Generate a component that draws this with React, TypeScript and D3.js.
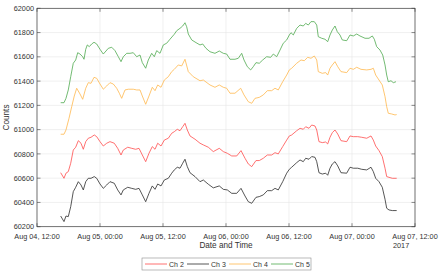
import React from "react";
import * as d3 from "d3";

// hours since Aug 04 2017 12:00
const ch5Hours = [4.51,5.14,5.52,5.96,6.42,6.91,7.37,7.75,8.19,8.70,8.95,9.28,9.58,9.96,10.42,10.86,11.37,12.0,12.63,13.14,13.58,14.23,14.86,15.49,16.0,16.44,17.09,17.71,18.34,18.99,19.62,20.06,20.70,21.20,21.85,22.34,22.80,23.43,24.06,24.70,25.33,26.15,
26.61,27.24,27.75,28.19,28.51,28.82,29.47,30.29,31.05,31.56,32.19,32.95,33.90,34.72,35.49,36.13,36.76,37.71,38.34,38.99,39.43,40.06,40.70,41.20,41.71,42.34,42.99,43.75,44.51,45.01,45.66,46.29,46.91,47.56,48.06,
48.38,48.82,49.47,50.10,50.72,51.18,51.68,52.19,52.82,53.28,53.58,54.23,54.86,55.37,55.81,56.25,56.76,57.20,57.71,58.15,58.99,59.62,60.25,60.90,61.52,62.48,63.24,63.87,64.25,64.70,65.33,65.85,66.29,66.61,66.91,67.43,67.87,68.38];
const ch5Values = [61222,61222,61258,61327,61436,61547,61574,61634,61623,61601,61580,61662,61698,61684,61706,61720,61706,61662,61623,61648,61670,61679,61651,61601,61560,61601,61629,61629,61634,61601,61615,61552,61506,61574,61629,61601,61651,61629,61698,61712,61745,61786,
61815,61835,61854,61881,61848,61788,61739,61717,61698,61706,61670,61642,61629,61648,61629,61623,61580,61580,61588,61629,61574,61519,61492,61519,61552,61547,61574,61601,61596,61623,61601,61656,61712,61739,61780,
61799,61780,61835,61862,61854,61876,61862,61890,61890,61862,61766,61753,61745,61725,61780,61821,61854,61807,61780,61739,61733,61780,61772,61788,61772,61753,61753,61772,61745,61684,61656,61615,61533,61450,61395,61403,61387,61395];

const ch4Hours = [4.51,5.14,5.52,6.10,6.61,7.10,7.56,8.19,8.70,9.28,9.77,10.29,10.86,11.37,12.0,12.63,13.28,13.90,14.53,15.18,15.68,16.13,16.76,17.39,18.34,18.99,19.62,20.06,20.70,21.33,21.96,22.48,22.99,23.62,24.25,25.01,25.66,26.15,
26.91,27.56,28.19,28.82,29.77,31.05,31.68,32.95,33.90,34.72,35.49,36.13,36.76,37.71,38.80,39.43,40.25,40.90,41.52,42.34,43.10,43.87,44.70,45.33,45.96,46.80,47.56,48.06,
48.51,49.47,50.29,50.91,51.56,52.19,52.82,53.28,53.58,54.34,54.99,55.37,55.81,56.25,56.76,57.28,57.90,58.99,59.62,60.25,60.90,61.71,62.80,63.62,64.06,64.51,65.14,65.77,66.29,66.61,66.91,67.56,68.19,68.51];
const ch4Values = [60962,60962,60997,61094,61189,61277,61341,61294,61250,61341,61387,61382,61431,61423,61376,61333,61360,61387,61376,61341,61300,61258,61327,61333,61333,61327,61327,61277,61209,61277,61349,61321,61368,61349,61409,61436,61478,61497,
61533,61525,61580,61478,61436,61403,61409,61368,61349,61368,61349,61341,61300,61300,61341,61286,61230,61217,61258,61266,61286,61321,61321,61341,61327,61395,61450,61492,
61506,61547,61574,61568,61596,61588,61607,61574,61478,61464,61470,61450,61506,61533,61560,61519,61478,61470,61506,61497,61514,61497,61492,61497,61506,61450,61409,61368,61272,61189,61135,61129,61121,61124];

const ch23Hours = [4.51,5.14,5.52,5.96,6.42,6.91,7.37,7.87,8.38,8.82,9.28,9.77,10.29,10.91,11.37,12.0,12.63,13.28,13.90,14.72,15.37,16.0,16.44,17.28,18.04,18.80,19.43,20.06,20.70,21.33,21.96,22.48,22.99,23.62,24.25,25.01,25.66,26.15,
26.72,27.24,27.75,28.19,28.63,29.14,30.10,31.05,31.68,32.63,33.58,34.72,35.49,36.25,37.09,38.04,38.86,39.62,40.25,40.90,41.71,42.34,43.10,43.87,44.70,45.33,45.96,46.80,47.56,48.06,
48.51,49.47,50.10,50.72,51.18,51.81,52.32,52.95,53.28,53.71,54.34,54.99,55.37,55.81,56.25,56.76,57.28,57.90,58.99,59.62,60.25,61.09,61.85,62.80,63.62,64.06,64.51,65.14,65.77,66.29,66.61,67.05,67.68,68.51];
const ch2Values = [60645,60599,60641,60654,60723,60832,60855,60909,60888,60838,60901,60929,60937,60956,60942,60901,60865,60888,60901,60888,60846,60791,60832,60855,60846,60838,60846,60791,60736,60805,60860,60838,60888,60865,60914,60929,60970,60983,
61003,60991,61024,61052,60997,60948,60921,60888,60874,60855,60819,60846,60819,60805,60783,60783,60827,60764,60717,60695,60745,60745,60764,60791,60791,60810,60800,60860,60914,60948,
60956,60991,61011,61003,61024,61011,61038,61030,60997,60901,60893,60898,60882,60937,60975,60997,60964,60909,60901,60948,60942,60942,60937,60929,60948,60914,60865,60827,60778,60682,60613,60607,60599,60599];
const ch3Values = [60288,60242,60288,60283,60365,60489,60525,60571,60544,60503,60571,60599,60599,60613,60599,60552,60516,60544,60571,60558,60503,60462,60503,60525,60516,60508,60516,60462,60406,60475,60536,60508,60552,60536,60585,60599,60641,60668,
60690,60682,60723,60756,60695,60645,60613,60571,60585,60550,60520,60536,60508,60503,60475,60475,60516,60453,60406,60393,60442,60448,60462,60497,60497,60516,60503,60571,60641,60673,
60690,60728,60750,60736,60764,60756,60778,60772,60736,60645,60634,60641,60624,60682,60717,60736,60701,60645,60641,60690,60682,60682,60673,60668,60690,60654,60599,60571,60525,60426,60352,60338,60333,60333];

const seriesNames = ["Ch 2", "Ch 3", "Ch 4", "Ch 5"];
const seriesColors = ["#ff4d4d", "#2b2b2b", "#ffb84d", "#4fa94f"];
const yTicks = [60200, 60400, 60600, 60800, 61000, 61200, 61400, 61600, 61800, 62000];

const W = 444, H = 273;
const left = 37, right = 415, top = 8.3, bottom = 226.7;
const start = new Date(2017, 7, 4, 12, 0, 0);
const end = new Date(2017, 7, 7, 12, 0, 0);
const toDate = (h: number) => new Date(start.getTime() + h * 3600 * 1000);

export default function App() {
  const x = d3.scaleTime().domain([start, end]).range([left, right]);
  const y = d3.scaleLinear().domain([60200, 62000]).range([bottom, top]);
  const xTicks = x.ticks(d3.timeHour.every(12) as any);
  const fmt = d3.timeFormat("%b %d, %H:%M");
  const line = d3.line<[number, number]>().x(d => x(toDate(d[0]))).y(d => y(d[1]));
  const zip = (hs: number[], vs: number[]) => hs.map((h, i) => [h, vs[i]] as [number, number]);
  const series = [
    zip(ch23Hours, ch2Values),
    zip(ch23Hours, ch3Values),
    zip(ch4Hours, ch4Values),
    zip(ch5Hours, ch5Values),
  ];
  const font = "'Liberation Sans', Arial, sans-serif";
  const textColor = "#333";
  const legX = 142, legY = 258, itemW = 42;
  return (
    <svg width={W} height={H} style={{ position: "absolute", left: 0, top: 0, background: "#fff" }} fontFamily={font}>
      <rect x={0} y={0} width={W} height={H} fill="#fff" />
      {/* grid */}
      {xTicks.map((t, i) => (
        <line key={"gx" + i} x1={x(t)} x2={x(t)} y1={top} y2={bottom} stroke="#e6e6e6" strokeWidth={0.6} />
      ))}
      {yTicks.map((v, i) => (
        <line key={"gy" + i} x1={left} x2={right} y1={y(v)} y2={y(v)} stroke="#e6e6e6" strokeWidth={0.6} />
      ))}
      {/* lines */}
      {series.map((s, i) => (
        <path key={"s" + i} d={line(s) || ""} fill="none" stroke={seriesColors[i]} strokeWidth={0.8} strokeLinejoin="round" />
      ))}
      {/* box */}
      <rect x={left} y={top} width={right - left} height={bottom - top} fill="none" stroke="#404040" strokeWidth={0.7} />
      {/* ticks */}
      {xTicks.map((t, i) => (
        <g key={"tx" + i}>
          <line x1={x(t)} x2={x(t)} y1={bottom} y2={bottom - 3.5} stroke="#404040" strokeWidth={0.6} />
          <line x1={x(t)} x2={x(t)} y1={top} y2={top + 3.5} stroke="#404040" strokeWidth={0.6} />
          <text x={x(t)} y={238.5} textAnchor="middle" fontSize={7.3} fill={textColor}>{fmt(t)}</text>
        </g>
      ))}
      {yTicks.map((v, i) => (
        <g key={"ty" + i}>
          <line x1={left} x2={left + 3.5} y1={y(v)} y2={y(v)} stroke="#404040" strokeWidth={0.6} />
          <line x1={right} x2={right - 3.5} y1={y(v)} y2={y(v)} stroke="#404040" strokeWidth={0.6} />
          <text x={34} y={y(v) + 2.6} textAnchor="end" fontSize={7.3} fill={textColor}>{v}</text>
        </g>
      ))}
      <text x={393} y={247.5} fontSize={7.3} fill={textColor}>2017</text>
      <text x={(left + right) / 2} y={248.3} textAnchor="middle" fontSize={8.2} fill={textColor}>Date and Time</text>
      <text transform={`translate(9,${(top + bottom) / 2}) rotate(-90)`} textAnchor="middle" fontSize={8.2} fill={textColor}>Counts</text>
      {/* legend */}
      <rect x={legX} y={legY} width={169} height={12} fill="#fff" stroke="#8c8c8c" strokeWidth={0.6} />
      {seriesNames.map((n, i) => (
        <g key={"l" + i}>
          <line x1={legX + 3 + i * itemW} x2={legX + 25 + i * itemW} y1={legY + 6} y2={legY + 6} stroke={seriesColors[i]} strokeWidth={0.8} />
          <text x={legX + 27 + i * itemW} y={legY + 8.5} fontSize={7} fill={textColor}>{n}</text>
        </g>
      ))}
    </svg>
  );
}
